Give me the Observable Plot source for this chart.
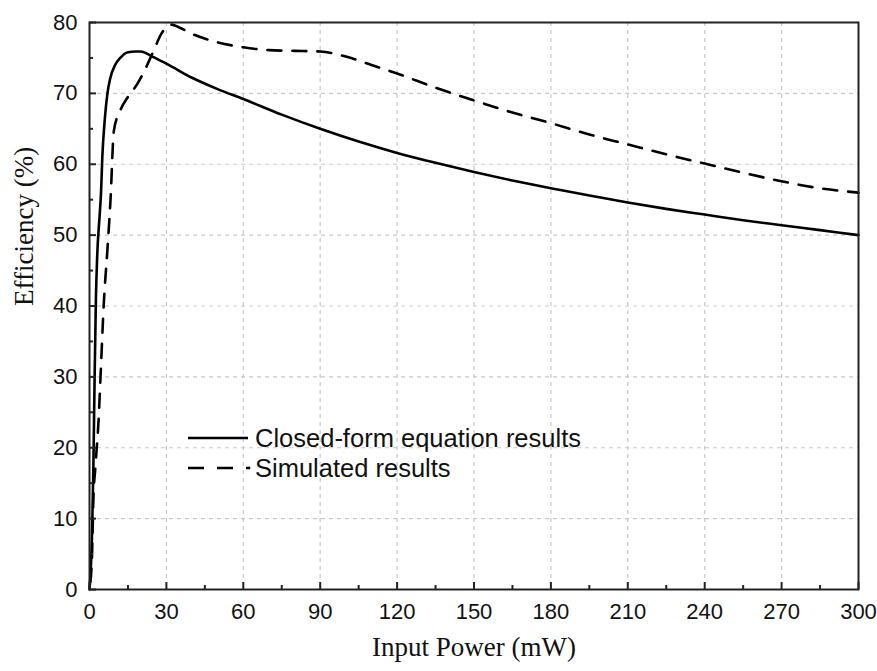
<!DOCTYPE html>
<html>
<head>
<meta charset="utf-8">
<script src="https://cdn.jsdelivr.net/npm/d3@7"></script>
<script src="https://cdn.jsdelivr.net/npm/@observablehq/plot@0.6"></script>
<style>
  body { margin: 0; background: #fff; }
  #wrap { position: relative; width: 877px; height: 671px; }
  #legend { position: absolute; left: 186px; top: 423px; font-family: "Liberation Sans", Arial, sans-serif; font-size: 25.5px; color: #111; }
  #legend .row { display: flex; align-items: center; height: 30px; }
  #legend svg { margin-right: 3px; }
</style>
</head>
<body>
<div id="wrap">
  <div id="chart"></div>
  <div id="legend"></div>
</div>
<script>
// Closed-form equation results (solid)
const closedX = [0, 1, 1.5, 2, 2.5, 3, 4, 4.5, 5, 6, 7, 8, 10, 12, 15, 18, 20, 23, 25, 30, 40, 50, 60, 75, 90, 105, 120, 135, 150, 165, 180, 195, 210, 225, 240, 255, 270, 285, 300];
const closedY = [0, 8, 17, 30, 41, 47, 53, 56, 61, 66.5, 70, 72, 74, 75, 75.8, 75.9, 75.9, 75.5, 75.1, 74.2, 72.2, 70.6, 69.2, 67, 65, 63.2, 61.6, 60.2, 58.9, 57.7, 56.6, 55.6, 54.6, 53.7, 52.9, 52.1, 51.4, 50.7, 50];
// Simulated results (dashed)
const simX = [0.3, 1, 1.5, 2.3, 3.6, 4.3, 5.6, 7, 8.2, 9.5, 12, 15, 18.6, 22, 25, 28, 30, 32, 35, 40, 50, 60, 70, 80, 90, 100, 110, 120, 135, 150, 165, 180, 195, 210, 225, 240, 255, 270, 285, 300];
const simY = [1, 5, 12.6, 17.3, 24.3, 30, 40.5, 48, 55, 64.7, 67.6, 69.5, 71.3, 73.6, 76, 78.4, 79.3, 79.7, 79.3, 78.4, 77.2, 76.5, 76.1, 76, 75.9, 75.2, 74, 72.8, 70.8, 69, 67.3, 65.8, 64.2, 62.8, 61.4, 60.1, 58.8, 57.6, 56.6, 56];

const xMajor = d3.range(0, 301, 30);
const xMinor = d3.range(15, 300, 30);
const yMajor = d3.range(0, 81, 10);
const yMinor = d3.range(5, 80, 10);

const seriesNames = ["Closed-form equation results", "Simulated results"];
const xLabel = "Input Power (mW)";
const yLabel = "Efficiency (%)";

const closed = closedX.map((x, i) => ({x, y: closedY[i]}));
const sim = simX.map((x, i) => ({x, y: simY[i]}));

const W = 877, H = 671, mL = 89, mR = 19, mT = 22, mB = 82;
const pw = W - mL - mR, ph = H - mT - mB;

const chart = Plot.plot({
  width: W, height: H,
  marginLeft: mL, marginRight: mR, marginTop: mT, marginBottom: mB,
  style: {fontFamily: "Liberation Sans, Arial, sans-serif", fontSize: "22px", color: "#111", background: "#fff"},
  x: {domain: [0, 300]},
  y: {domain: [0, 80]},
  marks: [
    Plot.ruleX(xMajor.slice(1, -1), {stroke: "#c8c8c8", strokeWidth: 1.2, strokeDasharray: "4,4"}),
    Plot.ruleY(yMajor.slice(1, -1), {stroke: "#c8c8c8", strokeWidth: 1.2, strokeDasharray: "4,4"}),
    Plot.line(closed, {x: "x", y: "y", stroke: "#000", strokeWidth: 2.6, curve: "monotone-x"}),
    Plot.line(sim, {x: "x", y: "y", stroke: "#000", strokeWidth: 2.6, strokeDasharray: "14,11", curve: "monotone-x"}),
    Plot.tickX(xMajor, {stroke: "#222", strokeWidth: 2, insetTop: ph - 7}),
    Plot.tickX(xMinor, {stroke: "#222", strokeWidth: 2, insetTop: ph - 4}),
    Plot.tickY(yMajor, {stroke: "#222", strokeWidth: 2, insetRight: pw - 7}),
    Plot.tickY(yMinor, {stroke: "#222", strokeWidth: 2, insetRight: pw - 4}),
    Plot.axisX(xMajor, {tickSize: 0, tickPadding: 14, fontSize: 22, label: null}),
    Plot.axisY(yMajor, {tickSize: 0, tickPadding: 12, fontSize: 22, label: null}),
    Plot.frame({stroke: "#222", strokeWidth: 2}),
    Plot.text([xLabel], {frameAnchor: "bottom", dy: 66, fontFamily: "Liberation Serif, Times New Roman, serif", fontSize: 27, fill: "#111"}),
    Plot.text([yLabel], {frameAnchor: "left", rotate: -90, dx: -65, fontFamily: "Liberation Serif, Times New Roman, serif", fontSize: 27, fill: "#111"})
  ]
});
document.getElementById("chart").appendChild(chart);

const legend = document.getElementById("legend");
seriesNames.forEach((name, i) => {
  const row = document.createElement("div");
  row.className = "row";
  const dash = i === 0 ? "" : 'stroke-dasharray="16,13"';
  const dot = i === 0 ? "" : '<circle cx="63" cy="15" r="1.4" fill="#000"/>';
  row.innerHTML = `<svg width="66" height="30"><line x1="2" x2="62" y1="15" y2="15" stroke="#000" stroke-width="2.6" ${dash}/>${dot}</svg><span>${name}</span>`;
  legend.appendChild(row);
});
</script>
</body>
</html>
